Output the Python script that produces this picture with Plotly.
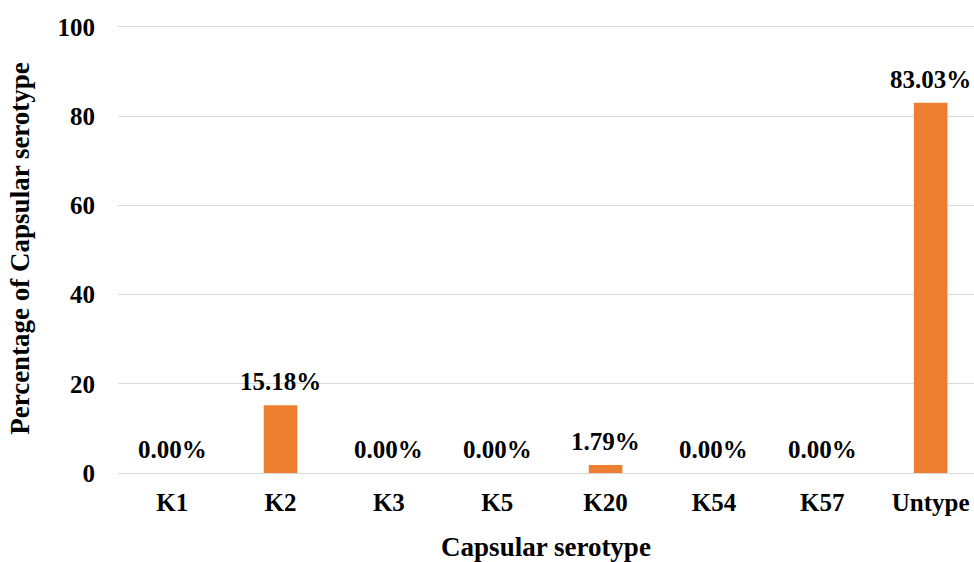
import plotly.graph_objects as go

categories = ["K1", "K2", "K3", "K5", "K20", "K54", "K57", "Untype"]
percentages = [0.00, 15.18, 0.00, 0.00, 1.79, 0.00, 0.00, 83.03]
y_ticks = [0, 20, 40, 60, 80, 100]

FONT = "Liberation Serif"
BAR_COLOR = "#ED7D31"
GRID = "#d9d9d9"

fig = go.Figure(
    go.Bar(
        x=categories,
        y=percentages,
        width=0.31,
        marker=dict(color=BAR_COLOR, line=dict(width=0)),
        cliponaxis=False,
    )
)

# value labels sitting above each bar
for cat, val in zip(categories, percentages):
    fig.add_annotation(
        x=cat,
        y=val,
        text=f"<b>{val:.2f}%</b>",
        showarrow=False,
        yanchor="bottom",
        yshift=8,
        font=dict(family=FONT, size=25, color="black"),
    )

fig.update_layout(
    width=974,
    height=562,
    margin=dict(l=118, r=0, t=24, b=89),
    paper_bgcolor="white",
    plot_bgcolor="white",
    showlegend=False,
    font=dict(family=FONT, color="black"),
)

fig.update_xaxes(
    range=[-0.5, 7.4],
    showgrid=False,
    showline=False,
    ticks="",
    tickfont=dict(family=FONT, size=25, color="black"),
    ticklabelstandoff=12,
    tickprefix="<b>",
    ticksuffix="</b>",
    title=dict(text="<b>Capsular serotype</b>", font=dict(family=FONT, size=27), standoff=24),
)

fig.update_yaxes(
    range=[0, 100.67],
    tickvals=y_ticks,
    ticktext=[f"<b>{t}</b>" for t in y_ticks],
    showgrid=True,
    gridcolor=GRID,
    gridwidth=1.3,
    zeroline=True,
    zerolinecolor=GRID,
    zerolinewidth=1.3,
    showline=False,
    ticks="",
    tickfont=dict(family=FONT, size=25, color="black"),
    ticklabelstandoff=22,
    title=dict(text="<b>Percentage of Capsular serotype</b>", font=dict(family=FONT, size=27), standoff=20),
)

fig.write_html("out.html")
